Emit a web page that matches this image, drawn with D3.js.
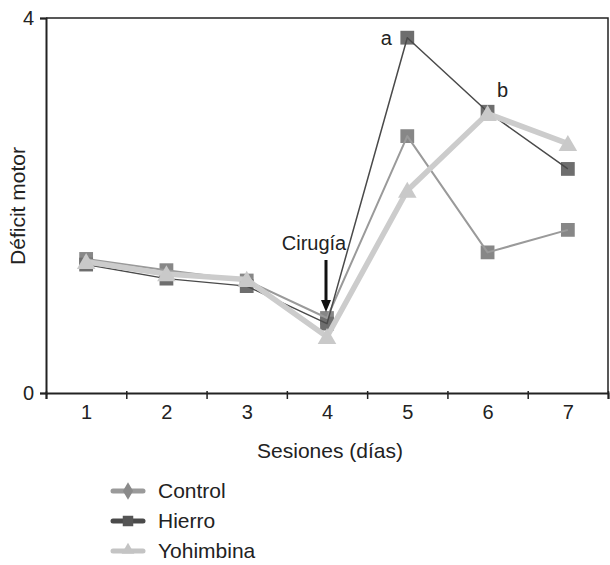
<!DOCTYPE html>
<html>
<head>
<meta charset="utf-8">
<script src="https://cdn.jsdelivr.net/npm/d3@7"></script>
<style>
  body { margin: 0; background: #fff; }
  text { font-family: "Liberation Sans", Arial, sans-serif; fill: #222; }
</style>
</head>
<body>
<svg id="chart" width="610" height="565"></svg>
<script>
var sessions = [1, 2, 3, 4, 5, 6, 7];
var control = [1.43, 1.31, 1.20, 0.80, 2.74, 1.50, 1.74];
var hierro = [1.37, 1.22, 1.14, 0.74, 3.79, 3.00, 2.39];
var yohimbina = [1.40, 1.27, 1.21, 0.60, 2.16, 2.98, 2.66];
var yTicks = [0, 4];
var seriesNames = ["Control", "Hierro", "Yohimbina"];

var fs = 20;

var svg = d3.select("#chart"),
    margin = {top: 18, right: 2, bottom: 172, left: 46},
    width = +svg.attr("width") - margin.left - margin.right,
    height = +svg.attr("height") - margin.top - margin.bottom,
    g = svg.append("g").attr("transform", "translate(" + margin.left + "," + margin.top + ")");

var x = d3.scaleLinear().domain([0.5, 7.5]).range([0, width]);
var y = d3.scaleLinear().domain([0, 4]).range([height, 0]);

// box frame top / right
g.append("path")
    .attr("d", "M0,0H" + width + "V" + height)
    .attr("fill", "none").attr("stroke", "#222").attr("stroke-width", 1.5);

// x axis: ticks at the boundaries, labels in the middle
var xTickPos = d3.range(0.5, 8, 1);
g.append("g")
    .attr("transform", "translate(0," + height + ")")
    .call(d3.axisBottom(x).tickValues(xTickPos).tickSize(6).tickFormat(""))
    .call(function(a) {
      a.select(".domain").attr("stroke", "#222").attr("stroke-width", 2);
      a.selectAll(".tick line").attr("stroke", "#222").attr("stroke-width", 1.5).attr("y1", -2);
    });
g.append("g")
    .attr("transform", "translate(0," + height + ")")
    .call(d3.axisBottom(x).tickValues(sessions).tickSize(0).tickPadding(12).tickFormat(d3.format("d")))
    .call(function(a) {
      a.select(".domain").remove();
      a.selectAll(".tick text").attr("font-size", fs).attr("fill", "#222")
          .style("font-family", "'Liberation Sans', Arial, sans-serif");
    });

g.append("g")
    .call(d3.axisLeft(y).tickValues(yTicks).tickSize(6).tickPadding(6).tickFormat(d3.format("d")))
    .call(function(a) {
      a.select(".domain").attr("stroke", "#222").attr("stroke-width", 2);
      a.selectAll(".tick line").attr("stroke", "#222").attr("stroke-width", 1.5);
      a.selectAll(".tick text").attr("font-size", fs).attr("fill", "#222")
          .style("font-family", "'Liberation Sans', Arial, sans-serif");
    });

svg.append("text")
    .attr("x", margin.left + width / 2 + 3)
    .attr("y", 458)
    .attr("text-anchor", "middle")
    .attr("font-size", fs + 1)
    .text("Sesiones (días)");

svg.append("text")
    .attr("transform", "translate(25,206) rotate(-90)")
    .attr("text-anchor", "middle")
    .attr("font-size", fs + 1)
    .text("Déficit motor");

var line = d3.line()
    .x(function(d, i) { return x(sessions[i]); })
    .y(function(d) { return y(d); });

var styles = {
  Control:   {data: control,   stroke: "#9a9a9a", width: 2,   marker: "square",   fill: "#878787"},
  Hierro:    {data: hierro,    stroke: "#4a4a4a", width: 1.5, marker: "square",   fill: "#6e6e6e"},
  Yohimbina: {data: yohimbina, stroke: "#cccccc", width: 5.5, marker: "triangle", fill: "#c9c9c9"}
};

function symbolFor(m) {
  if (m === "square") return d3.symbol().type(d3.symbolSquare).size(190);
  if (m === "diamond") return d3.symbol().type(d3.symbolDiamond).size(90);
  return d3.symbol().type(d3.symbolTriangle).size(150);
}

// markers of control and hierro under the lines, yohimbina on top
["Control", "Hierro"].forEach(function(name) {
  var s = styles[name];
  g.append("g").selectAll("path").data(s.data).enter().append("path")
      .attr("transform", function(d, i) { return "translate(" + x(sessions[i]) + "," + y(d) + ")"; })
      .attr("d", symbolFor(s.marker)())
      .attr("fill", s.fill);
});
["Control", "Hierro", "Yohimbina"].forEach(function(name) {
  var s = styles[name];
  g.append("path")
      .datum(s.data)
      .attr("fill", "none")
      .attr("stroke", s.stroke)
      .attr("stroke-width", s.width)
      .attr("stroke-linejoin", "round")
      .attr("d", line);
});
var sy = styles.Yohimbina;
g.append("g").selectAll("path").data(sy.data).enter().append("path")
    .attr("transform", function(d, i) { return "translate(" + x(sessions[i]) + "," + (y(d) + 2) + ")"; })
    .attr("d", symbolFor("triangle")())
    .attr("fill", sy.fill);

// annotations
g.append("text").attr("x", x(5) - 21).attr("y", y(hierro[4]) + 7)
    .attr("text-anchor", "middle").attr("font-size", fs).text("a");
g.append("text").attr("x", x(6) + 15).attr("y", y(hierro[5]) - 15)
    .attr("text-anchor", "middle").attr("font-size", fs).text("b");
g.append("text").attr("x", x(4) - 13).attr("y", y(control[3]) - 68)
    .attr("text-anchor", "middle").attr("font-size", fs).text("Cirugía");
g.append("line")
    .attr("x1", x(4) - 1).attr("x2", x(4) - 1)
    .attr("y1", y(control[3]) - 58).attr("y2", y(control[3]) - 16)
    .attr("stroke", "#111").attr("stroke-width", 3);
g.append("path")
    .attr("d", "M" + (x(4) - 6) + "," + (y(control[3]) - 18) + "L" + (x(4) + 4) + "," + (y(control[3]) - 18) + "L" + (x(4) - 1) + "," + (y(control[3]) - 6) + "Z")
    .attr("fill", "#111");

// legend
var legend = svg.append("g").attr("transform", "translate(110,491)");
seriesNames.forEach(function(name, i) {
  var s = styles[name];
  var row = legend.append("g").attr("transform", "translate(0," + (i * 30) + ")");
  row.append("line").attr("x1", 3).attr("x2", 33)
      .attr("stroke", name === "Yohimbina" ? "#c4c4c4" : s.stroke)
      .attr("stroke-width", 5).attr("stroke-linecap", "round");
  var mk = name === "Control" ? "diamond" : s.marker;
  row.append("path")
      .attr("transform", "translate(18," + (mk === "triangle" ? -1 : 0) + ")")
      .attr("d", (mk === "square" ? d3.symbol().type(d3.symbolSquare).size(110)
                 : mk === "triangle" ? d3.symbol().type(d3.symbolTriangle).size(70)
                 : symbolFor(mk))())
      .attr("fill", name === "Control" ? "#8a8a8a" : (name === "Hierro" ? "#555" : "#c4c4c4"));
  row.append("text").attr("x", 48).attr("y", 7).attr("font-size", fs + 1).text(name);
});
</script>
</body>
</html>
